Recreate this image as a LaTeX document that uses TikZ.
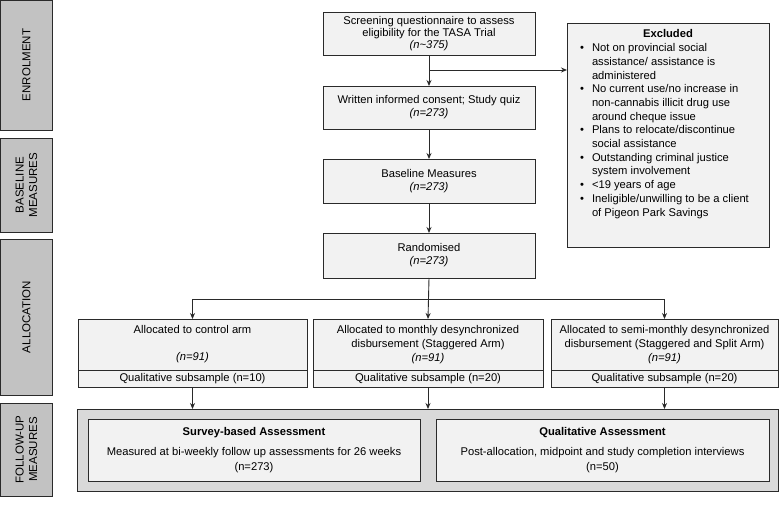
\documentclass[tikz,border=0pt]{standalone}
\usepackage{fontspec}
\setmainfont{Liberation Sans}
\usetikzlibrary{arrows.meta}
\definecolor{boxfill}{HTML}{F2F2F2}
\definecolor{sidefill}{HTML}{C2C2C2}
\definecolor{outerfill}{HTML}{D9D9D9}
\definecolor{edge}{HTML}{2A2A2A}
\newcommand{\exbul}{\makebox[12pt][l]{\textbullet}}
\newcommand{\exind}{\hspace*{12pt}}
\tikzset{
  base/.style={draw=edge, line width=0.9pt, inner sep=0pt, outer sep=0pt, align=center,
    font=\fontsize{11.2}{13}\selectfont},
  mainbox/.style={base, fill=boxfill, minimum width=212pt},
  sidebox/.style={base, fill=sidefill, rotate=90, minimum height=52pt,
    font=\fontsize{11.5}{13.5}\selectfont},
  armtop/.style={base, fill=boxfill, font=\fontsize{11.2}{14}\selectfont},
  armbot/.style={base, fill=boxfill, minimum height=17pt},
  inbox/.style={base, fill=boxfill, minimum height=62pt, font=\fontsize{11.2}{14.5}\selectfont},
  txt/.style={inner sep=0pt, outer sep=0pt, font=\fontsize{11.2}{13.7}\selectfont},
  arr/.style={draw=edge, line width=0.9pt, -{Stealth[length=6pt,width=5pt]}},
  ln/.style={draw=edge, line width=0.9pt}
}
\begin{document}
\begin{tikzpicture}[x=1pt,y=-1pt]
\useasboundingbox (0,0) rectangle (779,506);
% side labels
\node[sidebox, minimum width=130pt] (sEnrol) at (26.5,65) {ENROLMENT};
\node[sidebox, minimum width=94pt] (sBase) at (26.5,185) {BASELINE\\MEASURES};
\node[sidebox, minimum width=156pt] (sAlloc) at (26.5,317) {ALLOCATION};
\node[sidebox, minimum width=93pt] (sFollow) at (26.5,449.5) {FOLLOW-UP\\MEASURES};
% main column
\node[mainbox, minimum height=43pt, font=\fontsize{11.2}{12}\selectfont] (screen) at (429,33.5)
  {Screening questionnaire to assess\\eligibility for the TASA Trial\\\textit{(n\textasciitilde375)}};
\node[mainbox, minimum height=43pt] (consent) at (429,107.5)
  {Written informed consent; Study quiz\\\textit{(n=273)}};
\node[mainbox, minimum height=44pt] (baseline) at (429,181)
  {Baseline Measures\\\textit{(n=273)}};
\node[mainbox, minimum height=45pt] (rand) at (429,255.5)
  {Randomised\\\textit{(n=273)}};
% excluded
\node[base, fill=boxfill, minimum width=202pt, minimum height=224pt] (excl) at (668,135) {};
\node[txt] (exclh) at (668,33) {\textbf{Excluded}};
\node[txt, anchor=north west, align=left] (exclt) at (580,43.5) {%
\exbul Not on provincial social\\
\exind assistance/ assistance is\\
\exind administered\\
\exbul No current use/no increase in\\
\exind non-cannabis illicit drug use\\
\exind around cheque issue\\
\exbul Plans to relocate/discontinue\\
\exind social assistance\\
\exbul Outstanding criminal justice\\
\exind system involvement\\
\exbul <19 years of age\\
\exbul Ineligible/unwilling to be a client\\
\exind of Pigeon Park Savings};
% arms
\node[armtop, minimum width=229pt, minimum height=51pt] (a1) at (192.5,344.5)
  {Allocated to control arm\\[13pt]\textit{(n=91)}};
\node[armbot, minimum width=229pt] (a1s) at (192.5,378.5) {Qualitative subsample (n=10)};
\node[armtop, minimum width=230pt, minimum height=51pt] (a2) at (428,344.5)
  {Allocated to monthly desynchronized\\disbursement (Staggered Arm)\\\textit{(n=91)}};
\node[armbot, minimum width=230pt] (a2s) at (428,378.5) {Qualitative subsample (n=20)};
\node[armtop, minimum width=227pt, minimum height=51pt] (a3) at (664.5,344.5)
  {Allocated to semi-monthly desynchronized\\disbursement (Staggered and Split Arm)\\\textit{(n=91)}};
\node[armbot, minimum width=227pt] (a3s) at (664.5,378.5) {Qualitative subsample (n=20)};
% follow-up
\node[base, fill=outerfill, minimum width=701pt, minimum height=82pt] (outer) at (427.5,450) {};
\node[inbox, minimum width=332pt] (survey) at (254,450)
  {\textbf{Survey-based Assessment}\\[6pt]Measured at bi-weekly follow up assessments for 26 weeks\\(n=273)};
\node[inbox, minimum width=333pt] (qual) at (602.5,450)
  {\textbf{Qualitative Assessment}\\[6pt]Post-allocation, midpoint and study completion interviews\\(n=50)};
% connectors
\draw[arr] (screen.south) -- (consent.north);
\coordinate (exbr) at (429,70);
\draw[arr] (exbr) -- (exbr -| excl.west);
\draw[arr] (consent.south) -- (baseline.north);
\draw[arr] (baseline.south) -- (rand.north);
\draw[arr] (rand.south) -- (a2.north);
\coordinate (rbr) at (429,299);
\draw[arr] (rbr) -- (rbr -| a1.north) -- (a1.north);
\draw[arr] (rbr) -- (rbr -| a3.north) -- (a3.north);
\draw[arr] (a1s.south) -- (a1s.south |- outer.north);
\draw[arr] (a2s.south) -- (a2s.south |- outer.north);
\draw[arr] (a3s.south) -- (a3s.south |- outer.north);
\end{tikzpicture}
\end{document}
